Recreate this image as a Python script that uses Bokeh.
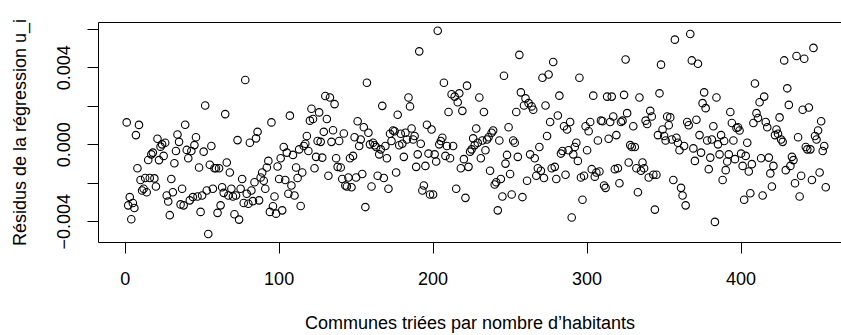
import numpy as np
from bokeh.plotting import figure
from bokeh.models import Range1d, FixedTicker, LinearAxis, ColumnDataSource
from bokeh.embed import file_html
from bokeh.resources import INLINE

# Résidus de la régression (en millièmes), communes triées par nombre d'habitants
residus_001_040 = [
    1.16, -3.15, -2.72, -3.87, -3.03, -3.29, 0.50, -1.22, 1.03, -1.83,
    -2.38, -2.29, -1.73, -2.47, -0.79, -1.73, -0.50, -0.41, -1.75, -2.17,
    0.31, -0.80, -0.10, 0.02, -0.58, 0.10, -2.64, -2.95, -3.66, -1.78,
    -2.47, -0.96, -0.33, 0.53, 0.15, -3.10, -2.29, -3.15, 1.04, -0.27,
]
residus_041_099 = [
    -0.70, -2.89, -0.33, -2.72, -0.02, 0.39, -2.69, -1.18, -3.49, -2.64,
    -0.36, 2.04, -2.38, -4.64, -1.04, -0.07, -2.29, -1.22, -1.22, -3.54,
    -1.22, -3.15, -2.21, -2.50, 1.59, -0.92, -2.64, -1.44, -2.29, -2.69,
    -3.61, -2.64, 0.24, -3.89, -2.29, -1.78, -3.03, 3.36, -2.55, -3.07,
    0.10, -2.38, -2.93, -1.95, 0.33, 0.67, -2.89, -1.70, -1.44, -1.87,
    -2.29, -1.18, -0.84, -3.49, 1.16, -3.20, -2.69, -3.58, -1.13,
]
residus_100_158 = [
    -1.78, -0.70, -3.41, -0.12, -1.83, -0.41, -2.55, 1.51, -2.12, -0.53,
    -2.64, -1.18, -1.73, -0.24, -3.18, -1.44, -0.07, 0.05, 0.45, -0.33,
    1.25, 1.87, 1.34, -1.22, -0.63, 0.19, 1.68, 0.15, -0.67, 0.67,
    2.53, 1.34, -1.61, 2.45, 0.15, 0.75, 2.11, -0.70, -1.15, 0.19,
    -1.18, -1.78, 0.58, -2.12, -2.17, -1.70, -0.70, -2.21, -0.58, 0.39,
    -1.70, 1.22, -0.07, 0.27, -1.52, 0.91, -3.24, 3.22, 0.62,
]
residus_159_215 = [
    0.02, -2.17, 0.10, -0.03, -0.12, -1.61, -0.50, -0.24, 2.02, -1.73,
    -0.07, -0.70, -2.29, 0.57, 0.19, 0.74, 0.70, -1.44, 1.56, -0.03,
    0.57, 0.05, -0.63, 0.62, 0.27, 2.45, 1.99, 0.84, 0.27, 0.45,
    -1.15, -0.50, 4.85, 0.05, -2.38, -2.12, -1.10, 1.04, -0.46, -2.59,
    0.79, -2.59, -0.50, -0.87, 5.92, 0.02, 0.19, 0.36, 3.22, -0.58,
    -0.07, 1.70, -0.70, 2.62, -0.07, 2.50, -2.29,
]
residus_216_276 = [
    2.21, 2.67, -1.22, 1.76, -0.75, -2.76, 3.07, -1.15, -0.36, -0.24,
    0.33, -0.02, 0.84, 0.10, 2.45, -0.70, 0.22, 1.70, -0.29, 0.27,
    0.39, -1.35, 0.62, 0.74, -2.07, -1.95, -3.41, 0.22, -1.78, -2.69,
    3.58, -0.98, -0.53, 0.91, -1.52, -2.59, 0.22, 0.10, 1.70, -0.63,
    4.67, 2.72, -2.72, 2.04, 2.41, -1.87, 2.16, -0.50, 1.99, 1.82,
    -0.70, -1.61, -1.22, -0.12, -1.35, 3.48, -1.73, 2.04, 0.45, 3.65,
    1.18,
]
residus_277_333 = [
    -1.22, 4.30, -1.15, -1.78, 1.52, 2.55, -0.46, -0.33, 0.96, -1.56,
    0.79, -0.29, 1.18, -3.78, -0.50, -0.12, 0.10, -0.84, 3.48, -1.70,
    -2.86, -1.61, 0.96, -0.29, 0.70, 1.18, -1.27, 2.55, -1.66, -1.44,
    0.22, -1.39, 1.25, 1.22, -2.12, -2.24, 2.50, 0.31, 1.18, 2.50,
    1.47, -1.27, 0.50, -1.22, -2.00, 1.18, 1.25, 2.59, 4.43, 1.64,
    -0.92, -0.02, -0.12, 0.96, -0.12, -1.22, -2.47,
]
residus_334_391 = [
    2.45, -1.35, -0.92, -1.22, 1.25, 1.08, -1.70, 1.76, 1.47, -1.56,
    -3.37, -1.56, 0.50, 2.67, 4.16, 0.79, 0.45, 0.22, 1.47, 1.01,
    1.42, 0.27, -1.83, 5.46, 0.36, 0.10, -0.29, -2.24, -2.64, -0.07,
    -3.15, 1.18, 1.01, 5.75, 4.38, -0.19, -0.84, 1.30, 4.21, 0.50,
    -0.41, 2.16, 2.72, 1.90, 0.22, -1.27, -0.67, 0.27, 0.96, -4.01,
    2.45, 0.02, -0.50, 0.50, -1.83, 0.19, -1.32, -0.87,
]
residus_392_455 = [
    -0.50, 1.70, 1.13, 0.22, -0.75, 0.87, 0.91, 0.74, -0.46, -1.10,
    -2.86, -0.58, 0.10, -1.39, -2.52, -1.01, 1.13, 3.18, 1.64, 1.39,
    2.21, -0.70, -2.64, 2.50, 1.18, 0.91, -0.67, -1.49, -2.17, -1.10,
    0.50, 0.79, 0.57, 1.42, 0.27, 0.15, 4.38, -1.32, 2.93, 2.07,
    -1.10, -0.63, -0.80, -2.00, 4.61, 0.39, -2.69, -1.61, 1.82, 4.47,
    -0.12, -0.24, 1.93, -0.24, -1.83, 5.03, 0.45, 0.27, 0.74, -1.44,
    1.22, -0.33, -0.07, -2.21,
]

x_ticks = [0, 100, 200, 300, 400]
y_ticks = [-0.004, -0.002, 0.0, 0.002, 0.004, 0.006]
y_tick_labels = {-0.004: "\u22120.004", -0.002: "", 0.0: "0.000",
                 0.002: "", 0.004: "0.004", 0.006: ""}

residus_milliemes = (residus_001_040 + residus_041_099 + residus_100_158
                     + residus_159_215 + residus_216_276 + residus_277_333
                     + residus_334_391 + residus_392_455)
residus = np.array(residus_milliemes) * 1e-3
rang = np.arange(1, len(residus) + 1)

source = ColumnDataSource(data=dict(rang=rang, residus=residus))

FONT = "Liberation Sans"

p = figure(width=841, height=335, output_backend="svg", toolbar_location=None,
           x_range=Range1d(-17.3, 465.2), y_range=Range1d(-0.00508, 0.00635),
           min_border_left=98, min_border_right=0, min_border_top=22,
           min_border_bottom=91,
           x_axis_label="Communes triées par nombre d\u2019habitants",
           y_axis_label="Résidus de la régression u_i")
p.grid.visible = False
p.outline_line_color = None
p.background_fill_color = "white"
p.border_fill_color = "white"

p.scatter("rang", "residus", source=source, marker="circle", size=7.5,
          fill_color=None, line_color="black", line_width=1.1)

for ax in (p.xaxis[0], p.yaxis[0]):
    ax.axis_line_color = "black"
    ax.axis_line_width = 1
    ax.major_tick_in = 0
    ax.major_tick_out = 11
    ax.major_tick_line_color = "black"
    ax.minor_tick_line_color = None
    ax.major_label_text_font = FONT
    ax.major_label_text_font_size = "18px"
    ax.major_label_text_color = "black"
    ax.axis_label_text_font = FONT
    ax.axis_label_text_font_size = "18px"
    ax.axis_label_text_font_style = "normal"
    ax.axis_label_text_color = "black"

p.xaxis[0].ticker = FixedTicker(ticks=x_ticks)
p.xaxis[0].major_label_standoff = 18
p.xaxis[0].axis_label_standoff = 25

p.yaxis[0].ticker = FixedTicker(ticks=y_ticks)
p.yaxis[0].major_label_overrides = y_tick_labels
p.yaxis[0].major_label_orientation = "vertical"
p.yaxis[0].major_label_standoff = 17
p.yaxis[0].axis_label_standoff = 25

# top edge of the box
top = LinearAxis(ticker=FixedTicker(ticks=[]), axis_line_color="black",
                 major_tick_line_color=None, minor_tick_line_color=None,
                 major_label_text_font_size="0px")
p.add_layout(top, "above")

open("out.html", "w").write(file_html(p, INLINE))
